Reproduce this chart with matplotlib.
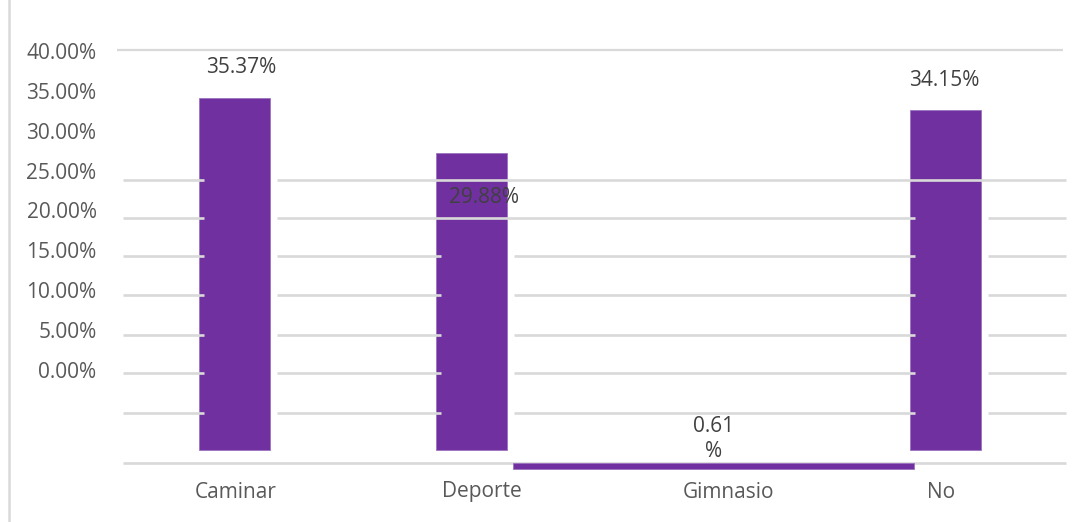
import numpy as np
import matplotlib.pyplot as plt
from matplotlib.lines import Line2D
from matplotlib.ticker import FuncFormatter

plt.rcParams["font.family"] = ["Open Sans", "DejaVu Sans"]

# Datos
categorias = ["Caminar", "Deporte", "Gimnasio", "No"]
porcentajes = [35.37, 29.88, 0.61, 34.15]
ticks_pct = [0, 5, 10, 15, 20, 25, 30, 35, 40]

# Estilo
MORADO = "#7030a0"
GRIS_GRID = "#d9d9d9"
GRIS_TXT = "#595959"
GRIS_ETIQ = "#404040"
FS = 15

# Geometria de las barras (ancho, desplazamiento, base)
anchos = [0.30, 0.30, 1.69, 0.30]
desplaz = [0.0, 0.0, 0.02, 0.0]
bases = [0.0, 0.0, -1.91, 0.0]

# Lineas de division y linea base
nivel_sup = 40.2
niveles = [27.14, 23.32, 19.50, 15.58, 11.56, 7.74, 3.72]
nivel_base = -1.31
escala_corte = 0.81

# Desplazamientos de las etiquetas (pixeles)
off_valor = [(6.5, 31), (12.5, -45), (0, 24), (-1, 30)]
off_cat = [1.5, 10.5, 20.5, -4.5]

fig = plt.figure(figsize=(10.78, 5.22), dpi=100)
ax = fig.add_axes([116 / 1078, 47 / 522, 948 / 1078, 435 / 522])
ax.set_xlim(-0.5, 3.5)
ax.set_ylim(-2.51, 41.21)

x = np.arange(len(categorias)) + np.array(desplaz)
barras = ax.bar(x, porcentajes, width=anchos, bottom=bases, color=MORADO,
                edgecolor="#9c72c0", linewidth=0.6, zorder=2)

# linea superior continua
ax.hlines(nivel_sup, -0.496, 3.496, color=GRIS_GRID, lw=1.6, zorder=3, clip_on=False)

# lineas intermedias cortadas junto a las barras
for nivel in niveles:
    cortes = []
    for i, v in enumerate(porcentajes):
        if anchos[i] > 1:
            continue
        if nivel < nivel_base + escala_corte * v:
            c = x[i]
            cortes.append((c - anchos[i] / 2 + 0.021, c + anchos[i] / 2 + 0.03))
    inicio = -0.47
    for a, b in sorted(cortes):
        ax.hlines(nivel, inicio, a, color=GRIS_GRID, lw=1.9, zorder=3, clip_on=False)
        inicio = b
    ax.hlines(nivel, inicio, 3.51, color=GRIS_GRID, lw=1.9, zorder=3, clip_on=False)

ax.hlines(nivel_base, -0.47, 3.51, color=GRIS_GRID, lw=1.9, zorder=1, clip_on=False)

# etiquetas de valor
for i, (b, v) in enumerate(zip(barras, porcentajes)):
    txt = f"{v:.2f}%" if anchos[i] < 1 else f"{v:.2f}\n%"
    ax.annotate(txt, xy=(b.get_x() + b.get_width() / 2, bases[i] + v),
                xytext=off_valor[i], textcoords="offset pixels",
                ha="center", va="center", fontsize=FS, color=GRIS_ETIQ,
                linespacing=1.2, zorder=4)

# etiquetas de categoria
ax.set_xticks([])
for i, cat in enumerate(categorias):
    ax.annotate(cat, xy=(i, 0), xycoords=("data", "axes fraction"),
                xytext=(off_cat[i], -17), textcoords="offset pixels",
                ha="center", va="center", fontsize=FS, color=GRIS_TXT,
                annotation_clip=False)

ax.set_yticks([])
for s in ax.spines.values():
    s.set_visible(False)

# eje de porcentajes
ax2 = ax.twinx()
ax2.set_ylim(-13.17, 41.38)
ax2.yaxis.tick_left()
ax2.set_yticks(ticks_pct)
ax2.yaxis.set_major_formatter(FuncFormatter(lambda v, _: f"{v:.2f}%"))
ax2.tick_params(axis="y", length=0, pad=14, labelsize=FS, labelcolor=GRIS_TXT)
for s in ax2.spines.values():
    s.set_visible(False)
ax2.set_zorder(ax.get_zorder() - 1)

# borde izquierdo del grafico
fig.add_artist(Line2D([9 / 1078, 9 / 1078], [0, 1], color=GRIS_GRID, lw=1.8))

fig.savefig("out.png", dpi=100)
